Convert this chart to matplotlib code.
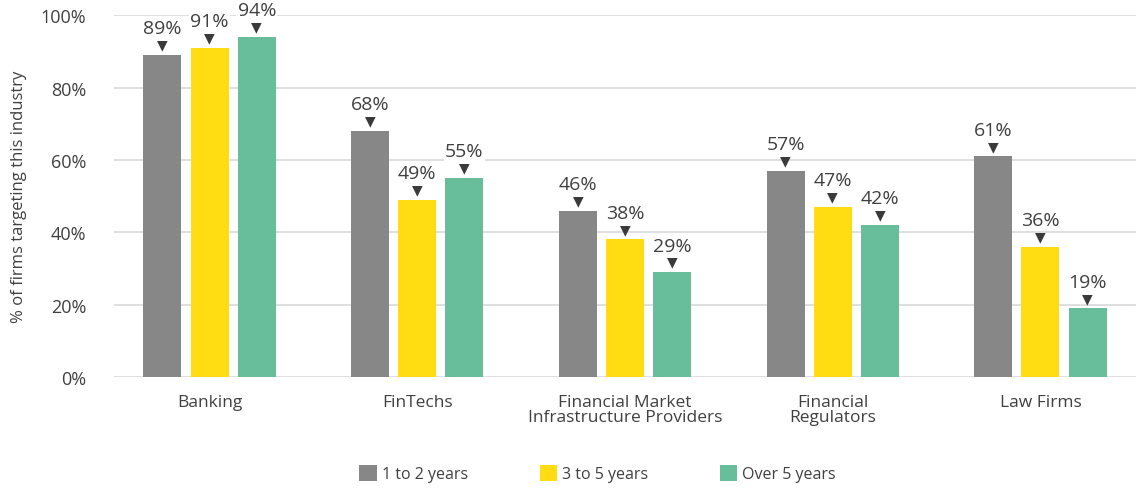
import matplotlib.pyplot as plt
import numpy as np

categories = ["Banking", "FinTechs", "Financial Market\nInfrastructure Providers",
              "Financial\nRegulators", "Law Firms"]
series_names = ["1 to 2 years", "3 to 5 years", "Over 5 years"]
one_to_two = [89, 68, 46, 57, 61]
three_to_five = [91, 49, 38, 47, 36]
over_five = [94, 55, 29, 42, 19]

colors = ["#878787", "#FFDD12", "#68BD9B"]
text_color = "#404040"

plt.rcParams["font.family"] = ["Open Sans", "DejaVu Sans"]

fig = plt.figure(figsize=(11.36, 4.89), dpi=100)
ax = fig.add_axes([0.1004, 0.227, 0.8996, 0.740])

x = np.arange(len(categories))
width = 0.183
offset = 0.227

for i, (vals, name) in enumerate(zip([one_to_two, three_to_five, over_five], series_names)):
    pos = x + (i - 1) * offset
    ax.bar(pos, vals, width, color=colors[i], label=name, zorder=3)
    for px, v in zip(pos, vals):
        ax.annotate("\u25BC", (px, v), xytext=(0, 7.5), textcoords="offset points",
                    ha="center", va="center", fontsize=10, color="#3a3a3a", zorder=4,
                    family="DejaVu Sans")
        ax.annotate(f"{v}%", (px, v), xytext=(0, 15.5), textcoords="offset points",
                    ha="center", va="baseline", fontsize=14, color=text_color, zorder=4,
                    bbox=dict(facecolor="white", edgecolor="none", pad=1))

ax.set_xlim(-0.46, 4.46)
ax.set_ylim(0, 100)
ax.set_yticks(range(0, 101, 20))
ax.set_yticklabels([f"{t}%" for t in range(0, 101, 20)])
ax.yaxis.grid(True, color="#d9d9d9", linewidth=1.2, zorder=0)
ax.set_axisbelow(True)
for s in ax.spines.values():
    s.set_visible(False)
ax.tick_params(axis="both", length=0, colors=text_color, labelsize=13)
ax.tick_params(axis="y", pad=20)
ax.tick_params(axis="x", pad=12, labelsize=12.5)
ax.set_xticks(x)
ax.set_xticklabels(categories, linespacing=0.95)
ax.set_ylabel("% of firms targeting this industry", fontsize=12, color=text_color, labelpad=10)

fig.legend(loc="center", bbox_to_anchor=(0.526, 0.03), ncol=3, frameon=False,
           fontsize=11.5, handlelength=1.1, handleheight=1.2, handletextpad=0.3,
           columnspacing=4.5, labelcolor=text_color)

fig.savefig("out.png", dpi=100)
